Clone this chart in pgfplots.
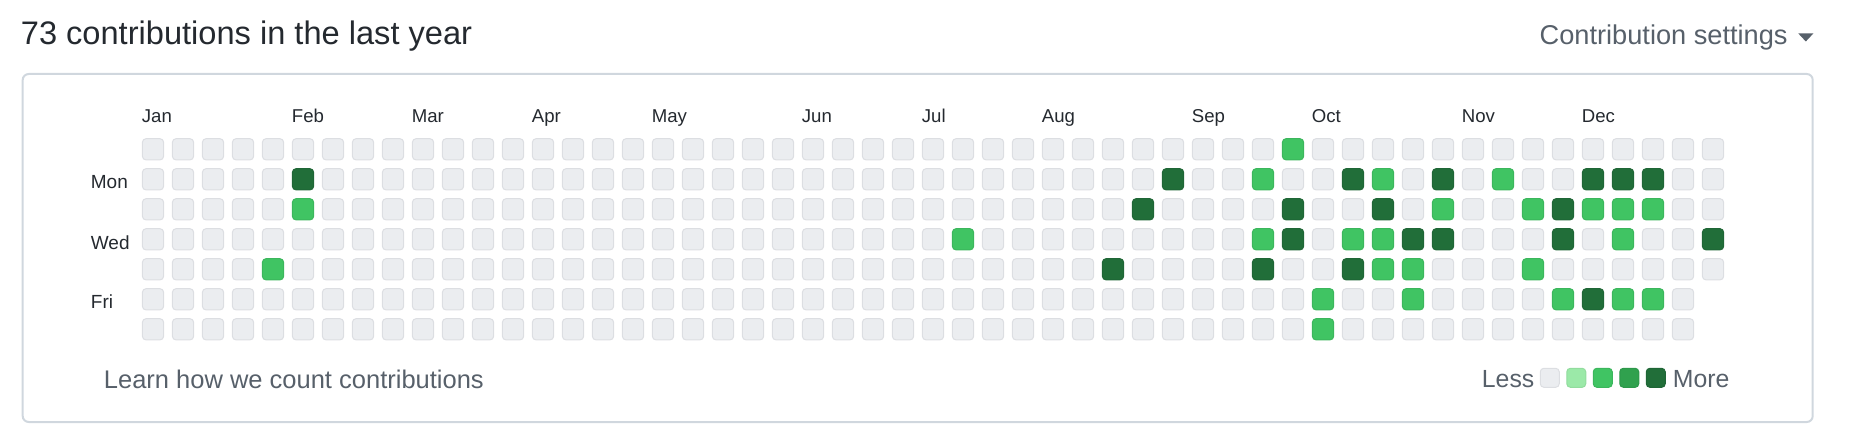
\documentclass[border=0pt]{standalone}
\usepackage{pgfplots}
\pgfplotsset{compat=1.18}
\usepackage{pgfplotstable}
\usepackage{fontspec}
\setmainfont{Liberation Sans}

\definecolor{c0}{HTML}{EBEDF0}
\definecolor{b0}{HTML}{DCDEE2}
\definecolor{c1}{HTML}{9BE9A8}
\definecolor{b1}{HTML}{92DC9E}
\definecolor{c2}{HTML}{40C463}
\definecolor{b2}{HTML}{3BB65C}
\definecolor{c3}{HTML}{30A14E}
\definecolor{b3}{HTML}{2D984A}
\definecolor{c4}{HTML}{216E39}
\definecolor{b4}{HTML}{1F6636}
\definecolor{tdark}{HTML}{24292F}
\definecolor{tgray}{HTML}{57606A}
\definecolor{boxline}{HTML}{D0D7DE}

\def\cellr{1.8pt}
\pgfdeclareplotmark{cell}{%
  \pgfpathmoveto{\pgfpoint{-\pgfplotmarksize+\cellr}{-\pgfplotmarksize}}%
  \pgfpathlineto{\pgfpoint{\pgfplotmarksize-\cellr}{-\pgfplotmarksize}}%
  \pgfpatharc{-90}{0}{\cellr}%
  \pgfpathlineto{\pgfpoint{\pgfplotmarksize}{\pgfplotmarksize-\cellr}}%
  \pgfpatharc{0}{90}{\cellr}%
  \pgfpathlineto{\pgfpoint{-\pgfplotmarksize+\cellr}{\pgfplotmarksize}}%
  \pgfpatharc{90}{180}{\cellr}%
  \pgfpathlineto{\pgfpoint{-\pgfplotmarksize}{-\pgfplotmarksize+\cellr}}%
  \pgfpatharc{180}{270}{\cellr}%
  \pgfpathclose
  \pgfusepathqfillstroke
}

\tikzset{mlab/.style={anchor=base west, inner sep=0pt, text=tdark,
        font=\fontsize{9.3pt}{11pt}\selectfont}}

% contribution level per week (w) and weekday (d0 = Sun ... d6 = Sat); n = no day
\pgfplotstableread{
w d0 d1 d2 d3 d4 d5 d6
0 0 0 0 0 0 0 0
1 0 0 0 0 0 0 0
2 0 0 0 0 0 0 0
3 0 0 0 0 0 0 0
4 0 0 0 0 2 0 0
5 0 4 2 0 0 0 0
6 0 0 0 0 0 0 0
7 0 0 0 0 0 0 0
8 0 0 0 0 0 0 0
9 0 0 0 0 0 0 0
10 0 0 0 0 0 0 0
11 0 0 0 0 0 0 0
12 0 0 0 0 0 0 0
13 0 0 0 0 0 0 0
14 0 0 0 0 0 0 0
15 0 0 0 0 0 0 0
16 0 0 0 0 0 0 0
17 0 0 0 0 0 0 0
18 0 0 0 0 0 0 0
19 0 0 0 0 0 0 0
20 0 0 0 0 0 0 0
21 0 0 0 0 0 0 0
22 0 0 0 0 0 0 0
23 0 0 0 0 0 0 0
24 0 0 0 0 0 0 0
25 0 0 0 0 0 0 0
26 0 0 0 0 0 0 0
27 0 0 0 2 0 0 0
28 0 0 0 0 0 0 0
29 0 0 0 0 0 0 0
30 0 0 0 0 0 0 0
31 0 0 0 0 0 0 0
32 0 0 0 0 4 0 0
33 0 0 4 0 0 0 0
34 0 4 0 0 0 0 0
35 0 0 0 0 0 0 0
36 0 0 0 0 0 0 0
37 0 2 0 2 4 0 0
38 2 0 4 4 0 0 0
39 0 0 0 0 0 2 2
40 0 4 0 2 4 0 0
41 0 2 4 2 2 0 0
42 0 0 0 4 2 2 0
43 0 4 2 4 0 0 0
44 0 0 0 0 0 0 0
45 0 2 0 0 0 0 0
46 0 0 2 0 2 0 0
47 0 0 4 4 0 2 0
48 0 4 2 0 0 4 0
49 0 4 2 2 0 2 0
50 0 4 2 0 0 2 0
51 0 0 0 0 0 0 0
52 0 0 0 4 0 n n
}\cells

\pgfplotstableread{
x y l
1549.75 377.8 0
1576.25 377.8 1
1602.75 377.8 2
1629.25 377.8 3
1655.75 377.8 4
}\legendcells

\begin{document}
\begin{tikzpicture}
\begin{axis}[
  width=930pt, height=224pt, scale only axis,
  xmin=0, xmax=1860, ymin=0, ymax=448, y dir=reverse,
  hide axis, clip=false,
]
\path (axis cs:0,0) rectangle (axis cs:1860,448);

% header
\node[anchor=base west, inner sep=0pt, text=tdark,
      font=\fontsize{16.3pt}{19pt}\selectfont] at (axis cs:20.5,44.5)
      {73 contributions in the last year};
\node[anchor=base east, inner sep=0pt, text=tgray,
      font=\fontsize{13.6pt}{16pt}\selectfont] at (axis cs:1788,44.3)
      {Contribution settings};
\fill[tgray] (axis cs:1798.3,33.5) -- (axis cs:1813.3,33.5) -- (axis cs:1805.8,41.5) -- cycle;

% frame
\draw[boxline, line width=1pt, rounded corners=3pt]
  (axis cs:22.7,74) rectangle (axis cs:1812.7,422);

% month labels (left edge at week column 142+30*c)
\node[mlab] at (axis cs:141.5,122.3) {Jan};
\node[mlab] at (axis cs:291.5,122.3) {Feb};
\node[mlab] at (axis cs:411.5,122.3) {Mar};
\node[mlab] at (axis cs:531.5,122.3) {Apr};
\node[mlab] at (axis cs:651.5,122.3) {May};
\node[mlab] at (axis cs:801.5,122.3) {Jun};
\node[mlab] at (axis cs:921.5,122.3) {Jul};
\node[mlab] at (axis cs:1041.5,122.3) {Aug};
\node[mlab] at (axis cs:1191.5,122.3) {Sep};
\node[mlab] at (axis cs:1311.5,122.3) {Oct};
\node[mlab] at (axis cs:1461.5,122.3) {Nov};
\node[mlab] at (axis cs:1581.5,122.3) {Dec};

% weekday labels
\node[anchor=base west, inner sep=0pt, text=tdark, font=\fontsize{9.5pt}{11pt}\selectfont]
  at (axis cs:90.5,188.8) {Mon};
\node[anchor=base west, inner sep=0pt, text=tdark, font=\fontsize{9.5pt}{11pt}\selectfont]
  at (axis cs:90.5,249.5) {Wed};
\node[anchor=base west, inner sep=0pt, text=tdark, font=\fontsize{9.5pt}{11pt}\selectfont]
  at (axis cs:90.5,308.5) {Fri};

% cells
\pgfplotsinvokeforeach{0,...,6}{
\addplot[scatter, only marks, mark=cell, mark size=5.3pt, line width=0.5pt,
  scatter src=explicit symbolic,
  scatter/classes={0={fill=c0,draw=b0},2={fill=c2,draw=b2},4={fill=c4,draw=b4},n={opacity=0,mark size=0pt}}]
  table[x expr={153+30*\thisrow{w}}, y expr={149.3+30*#1}, meta=d#1] {\cells};
}

% footer
\node[anchor=base west, inner sep=0pt, text=tgray, font=\fontsize{12.75pt}{15pt}\selectfont]
  at (axis cs:103.5,388.3) {Learn how we count contributions};
\node[anchor=base west, inner sep=0pt, text=tgray, font=\fontsize{12.4pt}{15pt}\selectfont]
  at (axis cs:1481.5,387.7) {Less};
\node[anchor=base west, inner sep=0pt, text=tgray, font=\fontsize{12.4pt}{15pt}\selectfont]
  at (axis cs:1672.5,387.7) {More};
\addplot[scatter, only marks, mark=cell, mark size=4.75pt, line width=0.5pt,
  scatter src=explicit symbolic,
  scatter/classes={0={fill=c0,draw=b0},1={fill=c1,draw=b1},2={fill=c2,draw=b2},3={fill=c3,draw=b3},4={fill=c4,draw=b4}}]
  table[x=x, y=y, meta=l] {\legendcells};
\end{axis}
\end{tikzpicture}
\end{document}
